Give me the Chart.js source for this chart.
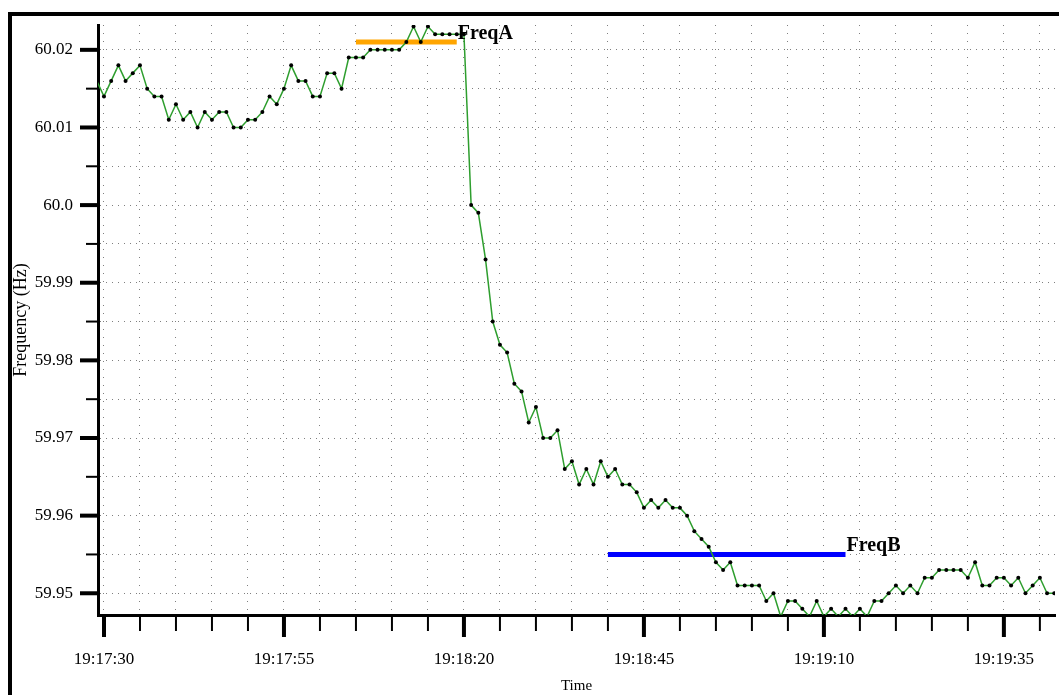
<!DOCTYPE html>
<html lang="en">
<head>
    <meta charset="UTF-8">
    <title>Frequency (Hz) vs Time</title>
    <script src="https://cdn.jsdelivr.net/npm/chart.js"></script>
    <style>
        html, body {
            margin: 0;
            padding: 0;
            background: white;
            overflow: hidden;
        }
        .frame {
            position: absolute;
            left: 8px;
            top: 12px;
            width: 1200px;
            height: 800px;
            border-left: 4px solid black;
            border-top: 4px solid black;
        }
        canvas {
            position: absolute;
            left: 0;
            top: 0;
        }
    </style>
</head>
<body>
    <div class="frame"></div>
    <canvas id="freqChart" width="1059" height="695"></canvas>
    <script>
        // one sample per second, first sample at 19:17:29
        const startTime = "19:17:29";
        const freqHz = [
            60.016, 60.014, 60.016, 60.018, 60.016, 60.017, 60.018, 60.015, 60.014, 60.014,
            60.011, 60.013, 60.011, 60.012, 60.010, 60.012, 60.011, 60.012, 60.012, 60.010,
            60.010, 60.011, 60.011, 60.012, 60.014, 60.013, 60.015, 60.018, 60.016, 60.016,
            60.014, 60.014, 60.017, 60.017, 60.015, 60.019, 60.019, 60.019, 60.020, 60.020,
            60.020, 60.020, 60.020, 60.021, 60.023, 60.021, 60.023, 60.022, 60.022, 60.022,
            60.022, 60.022, 60.000, 59.999, 59.993, 59.985, 59.982, 59.981, 59.977, 59.976,
            59.972, 59.974, 59.970, 59.970, 59.971, 59.966, 59.967, 59.964, 59.966, 59.964,
            59.967, 59.965, 59.966, 59.964, 59.964, 59.963, 59.961, 59.962, 59.961, 59.962,
            59.961, 59.961, 59.960, 59.958, 59.957, 59.956, 59.954, 59.953, 59.954, 59.951,
            59.951, 59.951, 59.951, 59.949, 59.950, 59.947, 59.949, 59.949, 59.948, 59.947,
            59.949, 59.947, 59.948, 59.947, 59.948, 59.947, 59.948, 59.947, 59.949, 59.949,
            59.950, 59.951, 59.950, 59.951, 59.950, 59.952, 59.952, 59.953, 59.953, 59.953,
            59.953, 59.952, 59.954, 59.951, 59.951, 59.952, 59.952, 59.951, 59.952, 59.950,
            59.951, 59.952, 59.950, 59.950, 59.950
        ];

        // reference levels
        const refNames = ["FreqA", "FreqB"];
        const refFrom = ["19:18:05", "19:18:40"];
        const refTo = ["19:18:19", "19:19:13"];
        const refValue = [60.021, 59.955];
        const refColors = ["#ffa500", "#0000ff"];

        const xRange = ["19:17:29.17", "19:19:42.1"];
        const yRange = [59.9472, 60.0232];

        function toSec(s) {
            const p = s.split(":").map(Number);
            return p[0] * 3600 + p[1] * 60 + p[2];
        }
        function fmtTime(v) {
            const s = Math.round(v);
            const h = Math.floor(s / 3600), m = Math.floor(s / 60) % 60, sec = s % 60;
            return h + ":" + String(m).padStart(2, "0") + ":" + String(sec).padStart(2, "0");
        }
        function isMajorY(v) {
            return Math.abs(Math.round(v * 100) - v * 100) < 1e-6;
        }
        function isMajorX(v) {
            return Math.round(v) % 25 === 0;
        }

        const t0 = toSec(startTime);
        const freqPoints = freqHz.map((f, i) => ({ x: t0 + i, y: f }));

        const refDatasets = refNames.map((name, i) => ({
            label: name,
            data: [{ x: toSec(refFrom[i]), y: refValue[i] }, { x: toSec(refTo[i]), y: refValue[i] }],
            borderColor: refColors[i],
            borderWidth: 5,
            pointRadius: 0,
            borderCapStyle: "butt"
        }));

        const serif = "'Liberation Serif', 'Times New Roman', serif";

        // axis ticks (major long/thick, minor short/thin) and the level labels
        const tickPlugin = {
            id: "tickPlugin",
            afterDraw(chart) {
                const ctx = chart.ctx;
                const xs = chart.scales.x, ys = chart.scales.y;
                const area = chart.chartArea;
                ctx.save();
                ctx.strokeStyle = "black";
                ys.ticks.forEach(t => {
                    const y = ys.getPixelForValue(t.value);
                    const major = isMajorY(t.value);
                    ctx.lineWidth = major ? 4 : 2;
                    ctx.beginPath();
                    ctx.moveTo(area.left - (major ? 18 : 12), y);
                    ctx.lineTo(area.left, y);
                    ctx.stroke();
                });
                xs.ticks.forEach(t => {
                    const x = xs.getPixelForValue(t.value);
                    const major = isMajorX(t.value);
                    ctx.lineWidth = major ? 4 : 2;
                    ctx.beginPath();
                    ctx.moveTo(x, area.bottom);
                    ctx.lineTo(x, area.bottom + (major ? 22 : 16));
                    ctx.stroke();
                });
                ctx.restore();
            },
            afterDatasetsDraw(chart) {
                const ctx = chart.ctx;
                const xs = chart.scales.x, ys = chart.scales.y;
                ctx.save();
                ctx.fillStyle = "black";
                ctx.font = "bold 20px " + serif;
                ctx.textAlign = "left";
                ctx.textBaseline = "alphabetic";
                refNames.forEach((name, i) => {
                    const x = xs.getPixelForValue(toSec(refTo[i]));
                    const y = ys.getPixelForValue(refValue[i]);
                    ctx.fillText(name, x + 1, y - 3);
                });
                ctx.restore();
            }
        };

        new Chart(document.getElementById("freqChart"), {
            type: "line",
            data: {
                datasets: [{
                    label: "Frequency",
                    data: freqPoints,
                    borderColor: "#2e9e2e",
                    borderWidth: 1.5,
                    pointRadius: 2,
                    pointBackgroundColor: "black",
                    pointBorderWidth: 0,
                    tension: 0
                }].concat(refDatasets)
            },
            options: {
                responsive: false,
                animation: false,
                layout: { padding: { top: 25, right: 0, left: 0, bottom: 0 } },
                plugins: { legend: { display: false }, tooltip: { enabled: false } },
                scales: {
                    x: {
                        type: "linear",
                        min: toSec(xRange[0]),
                        max: toSec(xRange[1]),
                        afterFit: s => { s.height = 80; s.paddingLeft = 0; s.paddingRight = 0; },
                        afterBuildTicks: s => { s.ticks = s.ticks.filter(t => t.value >= s.min && t.value <= s.max); },
                        ticks: {
                            stepSize: 5,
                            autoSkip: false,
                            maxRotation: 0,
                            includeBounds: false,
                            padding: 34,
                            color: "black",
                            font: { family: serif, size: 17 },
                            callback: v => isMajorX(v) ? fmtTime(v) : ""
                        },
                        grid: { color: "rgba(0,0,0,0.5)", lineWidth: 1, drawTicks: false },
                        border: { color: "black", width: 3, dash: [1, 7] },
                        title: { display: true, text: "Time", color: "black", font: { family: serif, size: 15 }, padding: { top: 0, bottom: 0 } }
                    },
                    y: {
                        min: yRange[0],
                        max: yRange[1],
                        afterFit: s => { s.width = 98; s.paddingTop = 0; s.paddingBottom = 0; },
                        afterBuildTicks: s => { s.ticks = s.ticks.filter(t => t.value >= s.min && t.value <= s.max); },
                        ticks: {
                            stepSize: 0.005,
                            autoSkip: false,
                            includeBounds: false,
                            padding: 25,
                            color: "black",
                            font: { family: serif, size: 17 },
                            callback: v => {
                                if (!isMajorY(v)) return "";
                                let s = v.toFixed(2);
                                if (s.endsWith("0")) s = s.slice(0, -1);
                                return s;
                            }
                        },
                        grid: { color: "rgba(0,0,0,0.5)", lineWidth: 1, drawTicks: false },
                        border: { color: "black", width: 3, dash: [1, 5] },
                        title: { display: true, text: "Frequency (Hz)", color: "black", font: { family: serif, size: 18 }, padding: { top: 10, bottom: 0 } }
                    }
                }
            },
            plugins: [tickPlugin]
        });
    </script>
</body>
</html>
